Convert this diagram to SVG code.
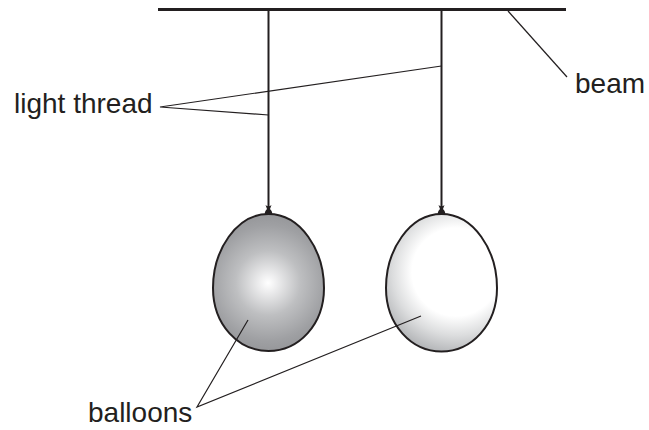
<svg xmlns="http://www.w3.org/2000/svg" width="649" height="430" viewBox="0 0 649 430">
<style>
.ln{stroke:#231f20;fill:none;stroke-linecap:butt}
.ptr{stroke:#231f20;stroke-width:1.2;fill:none}
.lbl{font-family:"Liberation Sans",Arial,sans-serif;font-size:28px;fill:#231f20}
.bal{stroke:#231f20;stroke-width:2}
.knot{fill:#231f20}
</style>
<defs>
<radialGradient id="g1" gradientUnits="userSpaceOnUse" cx="268" cy="283" r="72">
<stop offset="0" stop-color="#ffffff"/>
<stop offset="0.12" stop-color="#eeeeef"/>
<stop offset="0.45" stop-color="#bebfc1"/>
<stop offset="0.8" stop-color="#9fa0a3"/>
<stop offset="1" stop-color="#939497"/>
</radialGradient>
<radialGradient id="g2" gradientUnits="userSpaceOnUse" cx="456" cy="272" r="88">
<stop offset="0" stop-color="#ffffff"/>
<stop offset="0.5" stop-color="#ffffff"/>
<stop offset="0.72" stop-color="#dcddde"/>
<stop offset="1" stop-color="#a7a9ac"/>
</radialGradient>
</defs>
<g id="beam">
<line class="ln" x1="158" y1="9.5" x2="566" y2="9.5" stroke-width="3"/>
</g>
<g id="thread1">
<line class="ln" x1="268.5" y1="10" x2="268.5" y2="207" stroke-width="2"/>
</g>
<g id="thread2">
<line class="ln" x1="441.5" y1="10" x2="441.5" y2="207" stroke-width="2"/>
</g>
<g id="balloon1">
<path class="bal" fill="url(#g1)" d="M268.5,214 C300.5,214 324,250 324,288 C324,325 298.5,351 268.5,351 C238.5,351 213,325 213,288 C213,250 236.5,214 268.5,214 Z"/>
<path class="knot" d="M265.5,205 Q268.5,207.5 271.5,205 L270,209 Q273,212 272,215 L265,215 Q264,212 267,209 Z"/>
</g>
<g id="balloon2">
<path class="bal" fill="url(#g2)" d="M441.5,214 C473.5,214 497,250 497,288 C497,325 471.5,351.5 441.5,351.5 C411.5,351.5 386,325 386,288 C386,250 409.5,214 441.5,214 Z"/>
<path class="knot" d="M438.5,205 Q441.5,207.5 444.5,205 L443,209 Q446,212 445,215 L438,215 Q437,212 440,209 Z"/>
</g>
<g id="connectors">
<line class="ptr" x1="508" y1="11" x2="567" y2="77"/>
<polyline class="ptr" points="441.5,66 160,107 268.5,115"/>
<polyline class="ptr" points="248,320 197,407 421,316"/>
</g>
<g id="labels">
<text class="lbl" x="14" y="113">light thread</text>
<text class="lbl" x="575" y="93">beam</text>
<text class="lbl" x="88" y="422">balloons</text>
</g>
</svg>
